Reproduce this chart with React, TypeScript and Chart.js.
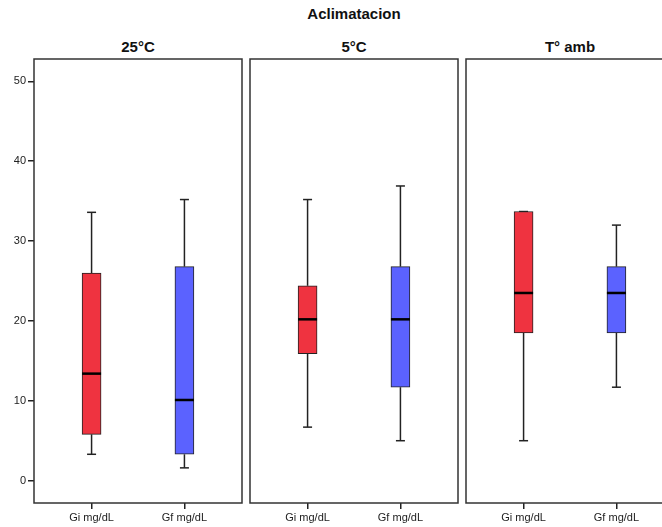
import React, { useEffect, useRef } from 'react';
import { Chart, registerables } from 'chart.js';

Chart.register(...registerables);

// ---- data ----
const chartTitle = 'Aclimatacion';
const groups = ['25°C', '5°C', 'T° amb'];
const variables = ['Gi mg/dL', 'Gf mg/dL'];
const giMin = [3.3, 6.7, 5.0];
const giQ1 = [5.8, 15.9, 18.5];
const giMedian = [13.4, 20.2, 23.5];
const giQ3 = [26.0, 24.4, 33.7];
const giMax = [33.6, 35.2, 33.7];
const gfMin = [1.6, 5.0, 11.7];
const gfQ1 = [3.3, 11.7, 18.5];
const gfMedian = [10.1, 20.2, 23.5];
const gfQ3 = [26.8, 26.8, 26.8];
const gfMax = [35.2, 36.9, 32.0];
const yTicks = [0, 10, 20, 30, 40, 50];

// ---- styles ----
const FONT = '"Liberation Sans", Arial, Helvetica, sans-serif';
const RED = '#EF3340';
const BLUE = '#5B62FF';
const INK = '#222222';
const PANEL_LEFT = [34, 250, 466];
const PANEL_W = 208;

function Panel({ index }: { index: number }) {
  const ref = useRef<HTMLCanvasElement | null>(null);
  const first = index === 0;
  const canvasLeft = first ? 0 : PANEL_LEFT[index] - 4;
  const canvasW = first ? 250 : 216;
  const canvasH = 477;

  useEffect(() => {
    if (!ref.current) return;
    const stats = [
      { pos: 0, min: giMin[index], q1: giQ1[index], med: giMedian[index], q3: giQ3[index], max: giMax[index] },
      { pos: 1, min: gfMin[index], q1: gfQ1[index], med: gfMedian[index], q3: gfQ3[index], max: gfMax[index] },
    ];
    const boxPlugin = {
      id: 'boxExtras' + index,
      beforeDatasetsDraw(chart: any) {
        const { ctx, scales } = chart;
        const x = scales.x;
        const y = scales.y;
        ctx.save();
        ctx.strokeStyle = INK;
        ctx.lineWidth = 1.5;
        stats.forEach((s) => {
          const px = x.getPixelForValue(s.pos);
          const segs = [
            [s.q3, s.max],
            [s.q1, s.min],
          ];
          segs.forEach(([a, b]) => {
            ctx.beginPath();
            ctx.moveTo(px, y.getPixelForValue(a));
            ctx.lineTo(px, y.getPixelForValue(b));
            ctx.stroke();
            ctx.beginPath();
            ctx.moveTo(px - 4.5, y.getPixelForValue(b));
            ctx.lineTo(px + 4.5, y.getPixelForValue(b));
            ctx.stroke();
          });
        });
        ctx.restore();
      },
      afterDatasetsDraw(chart: any) {
        const { ctx, scales, chartArea } = chart;
        const x = scales.x;
        const y = scales.y;
        ctx.save();
        ctx.strokeStyle = '#000';
        ctx.lineWidth = 2.5;
        stats.forEach((s) => {
          const px = x.getPixelForValue(s.pos);
          const py = y.getPixelForValue(s.med);
          ctx.beginPath();
          ctx.moveTo(px - 9.5, py);
          ctx.lineTo(px + 9.5, py);
          ctx.stroke();
        });
        ctx.strokeStyle = '#333';
        ctx.lineWidth = 1.5;
        ctx.strokeRect(chartArea.left, chartArea.top, chartArea.right - chartArea.left, chartArea.bottom - chartArea.top);
        ctx.restore();
      },
    };

    const chart = new Chart(ref.current, {
      type: 'bar',
      data: {
        datasets: [
          {
            data: [
              { x: 0, y: [giQ1[index], giQ3[index]] },
              { x: 1, y: [gfQ1[index], gfQ3[index]] },
            ] as any,
            backgroundColor: [RED, BLUE],
            borderColor: INK,
            borderWidth: 1,
            borderSkipped: false,
            barThickness: 19,
          },
        ],
      },
      options: {
        animation: false,
        responsive: false,
        layout: { padding: { top: 9, bottom: 0, left: first ? 0 : 4, right: first ? 8 : 4 } },
        plugins: { legend: { display: false }, tooltip: { enabled: false }, title: { display: false } },
        scales: {
          x: {
            type: 'linear',
            min: -0.62,
            max: 1.62,
            offset: false,
            grid: { display: true, drawOnChartArea: false, drawTicks: true, tickLength: 6, tickColor: INK, lineWidth: 1.5, offset: false },
            border: { display: false },
            afterBuildTicks: (s: any) => {
              s.ticks = variables.map((_, k) => ({ value: k }));
            },
            afterFit: (s: any) => {
              s.height = 24;
            },
            ticks: {
              callback: (v: any) => variables[v as number] ?? '',
              font: { size: 11, family: FONT },
              color: INK,
              padding: 2,
              maxRotation: 0,
              autoSkip: false,
            },
          },
          y: {
            display: first,
            min: -2.8,
            max: 52.8,
            afterBuildTicks: (s: any) => {
              s.ticks = yTicks.map((v) => ({ value: v }));
            },
            afterFit: (s: any) => {
              s.width = first ? 34 : 0;
            },
            grid: { drawOnChartArea: false, tickLength: 6, tickColor: INK, lineWidth: 1.5 },
            border: { display: false },
            ticks: { font: { size: 11, family: FONT }, color: INK, padding: 2 },
          },
        },
      } as any,
      plugins: [boxPlugin],
    });
    return () => chart.destroy();
  }, [index]);

  return (
    <div style={{ position: 'absolute', left: canvasLeft, top: 50, width: canvasW, height: canvasH }}>
      <canvas ref={ref} width={canvasW} height={canvasH} style={{ display: 'block' }} />
    </div>
  );
}

const titleStyle: React.CSSProperties = {
  position: 'absolute',
  width: 200,
  textAlign: 'center',
  fontFamily: FONT,
  fontWeight: 'bold',
  fontSize: 15,
  lineHeight: '17px',
  color: '#111',
  whiteSpace: 'nowrap',
};

export default function App() {
  return (
    <div style={{ position: 'absolute', left: 0, top: 0, width: 662, height: 527, overflow: 'hidden', background: '#fff' }}>
      <div style={{ ...titleStyle, left: 254, top: 5 }}>{chartTitle}</div>
      {groups.map((g, i) => (
        <div key={g} style={{ ...titleStyle, left: PANEL_LEFT[i] + PANEL_W / 2 - 100, top: 38 }}>
          {g}
        </div>
      ))}
      {groups.map((g, i) => (
        <Panel key={'p' + g} index={i} />
      ))}
    </div>
  );
}
